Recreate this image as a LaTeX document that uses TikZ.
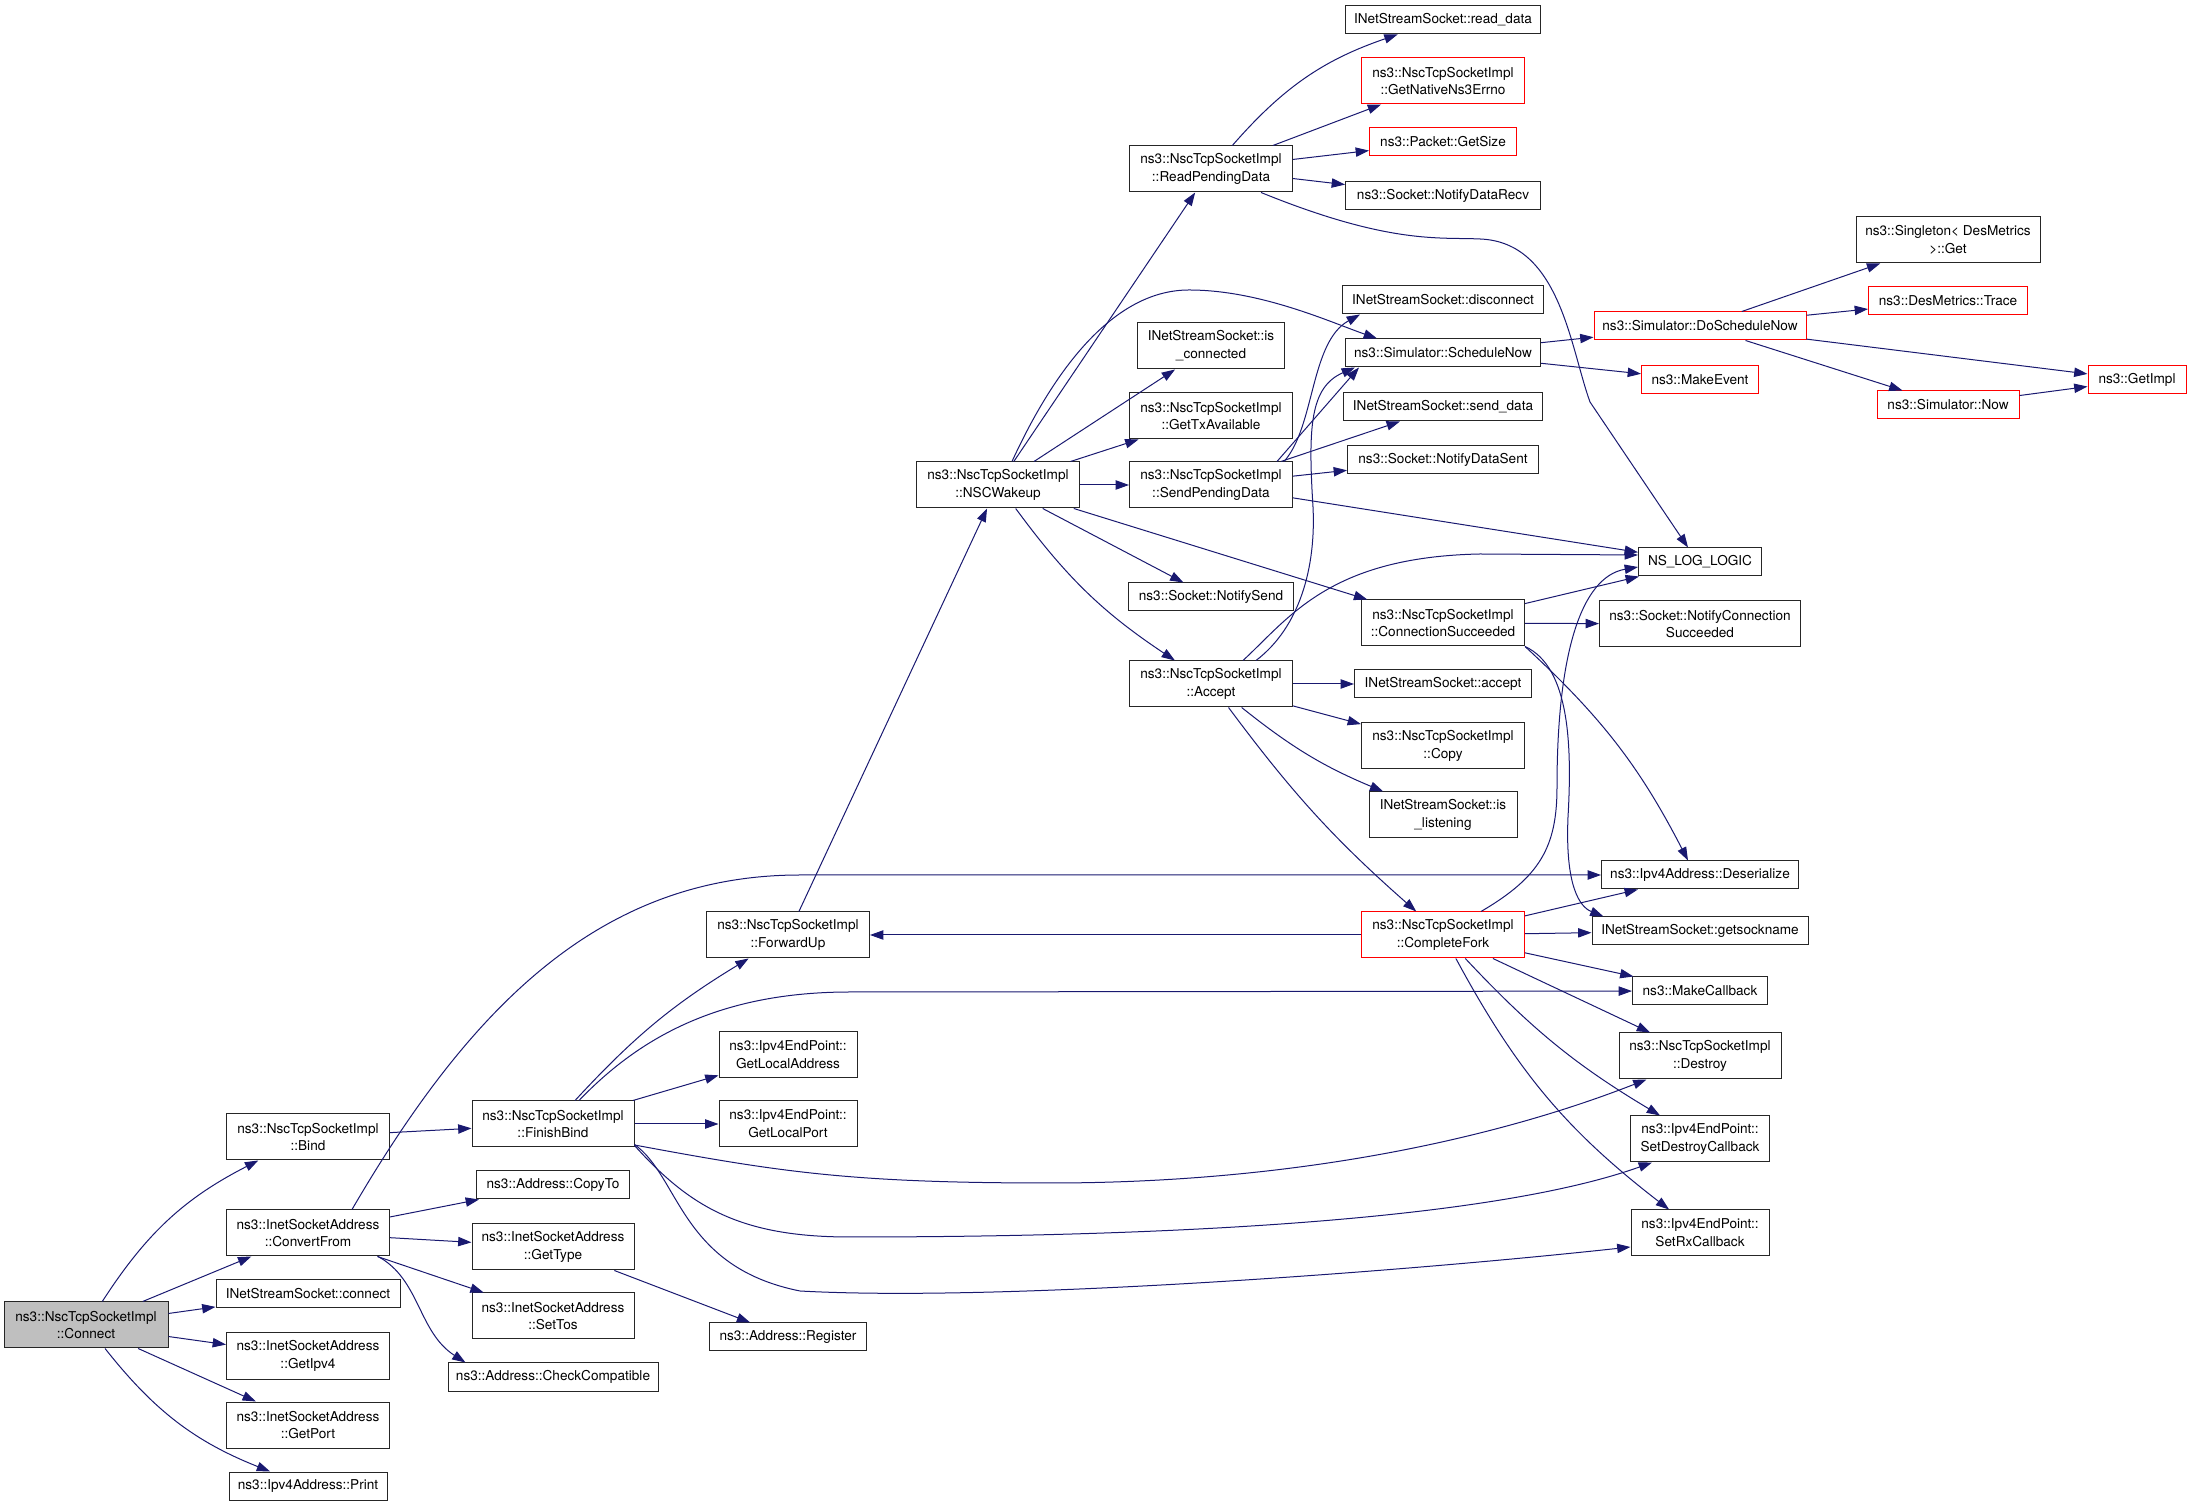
\documentclass[tikz,border=0pt]{standalone}
\usepackage{fontspec}
\setmainfont{TeX Gyre Heros}
\usetikzlibrary{arrows.meta,calc}
\definecolor{edgeblue}{HTML}{191970}
\definecolor{rootgray}{HTML}{BFBFBF}
\definecolor{truncred}{HTML}{FF0000}
\begin{document}
\begin{tikzpicture}[x=0.75pt,y=0.75pt,
      fn/.style={draw=black!85,line width=0.75pt,inner sep=0pt,align=center,
        minimum width=#1*0.75pt,minimum height=21pt,
        font=\fontsize{10.2pt}{13.3pt}\selectfont},
      fn/.default=160,
      two/.style={minimum height=34.5pt},
      trunc/.style={draw=truncred},
      root/.style={fill=rootgray},
      call/.style={draw=edgeblue,line width=0.75pt,
        -{Triangle[length=10pt,width=7pt]}}]
    \useasboundingbox (0,0) rectangle (2192,1507);
    \node[fn=164,two,root] (connect) at (86,182) {ns3::NscTcpSocketImpl\\::Connect};
    \node[fn=163,two] (bind) at (308,370) {ns3::NscTcpSocketImpl\\::Bind};
    \node[fn=163,two] (convfrom) at (308,274) {ns3::InetSocketAddress\\::ConvertFrom};
    \node[fn=184] (nsconnect) at (308,213) {INetStreamSocket::connect};
    \node[fn=163,two] (getipv4) at (308,151) {ns3::InetSocketAddress\\::GetIpv4};
    \node[fn=163,two] (getport) at (308,82) {ns3::InetSocketAddress\\::GetPort};
    \node[fn=158] (print) at (308,21) {ns3::Ipv4Address::Print};
    \node[fn=162,two] (finishbind) at (553,383) {ns3::NscTcpSocketImpl\\::FinishBind};
    \node[fn=153] (copyto) at (553,322) {ns3::Address::CopyTo};
    \node[fn=162,two] (gettype) at (553,260) {ns3::InetSocketAddress\\::GetType};
    \node[fn=162,two] (settos) at (553,191) {ns3::InetSocketAddress\\::SetTos};
    \node[fn=210] (checkcomp) at (553,130) {ns3::Address::CheckCompatible};
    \node[fn=163,two] (forwardup) at (788,572) {ns3::NscTcpSocketImpl\\::ForwardUp};
    \node[fn=138,two] (getlocaddr) at (788,452) {ns3::Ipv4EndPoint::\\GetLocalAddress};
    \node[fn=138,two] (getlocport) at (788,383) {ns3::Ipv4EndPoint::\\GetLocalPort};
    \node[fn=157] (register) at (788,170) {ns3::Address::Register};
    \node[fn=163,two] (nscwakeup) at (998,1022) {ns3::NscTcpSocketImpl\\::NSCWakeup};
    \node[fn=163,two] (readpend) at (1211,1338) {ns3::NscTcpSocketImpl\\::ReadPendingData};
    \node[fn=147,two] (isconn) at (1211,1161) {INetStreamSocket::is\\\_connected};
    \node[fn=163,two] (gettx) at (1211,1091) {ns3::NscTcpSocketImpl\\::GetTxAvailable};
    \node[fn=163,two] (sendpend) at (1211,1022) {ns3::NscTcpSocketImpl\\::SendPendingData};
    \node[fn=165] (notifysend) at (1211,910) {ns3::Socket::NotifySend};
    \node[fn=163,two] (accept) at (1211,823) {ns3::NscTcpSocketImpl\\::Accept};
    \node[fn=195] (readdata) at (1443,1487) {INetStreamSocket::read\_data};
    \node[fn=163,two,trunc] (nativeerr) at (1443,1426) {ns3::NscTcpSocketImpl\\::GetNativeNs3Errno};
    \node[fn=147,trunc] (getsize) at (1443,1365) {ns3::Packet::GetSize};
    \node[fn=195] (notifyrecv) at (1443,1311) {ns3::Socket::NotifyDataRecv};
    \node[fn=201] (disconnect) at (1443,1207) {INetStreamSocket::disconnect};
    \node[fn=195] (schedulenow) at (1443,1154) {ns3::Simulator::ScheduleNow};
    \node[fn=199] (senddata) at (1443,1100) {INetStreamSocket::send\_data};
    \node[fn=191] (notifysent) at (1443,1047) {ns3::Socket::NotifyDataSent};
    \node[fn=163,two] (connsucc) at (1443,884) {ns3::NscTcpSocketImpl\\::ConnectionSucceeded};
    \node[fn=177] (nsaccept) at (1443,823) {INetStreamSocket::accept};
    \node[fn=163,two] (copy) at (1443,761) {ns3::NscTcpSocketImpl\\::Copy};
    \node[fn=148,two] (islisten) at (1443,692) {INetStreamSocket::is\\\_listening};
    \node[fn=163,two,trunc] (completefork) at (1443,572) {ns3::NscTcpSocketImpl\\::CompleteFork};
    \node[fn=212,trunc] (doschedule) at (1700,1181) {ns3::Simulator::DoScheduleNow};
    \node[fn=117,trunc] (makeevent) at (1700,1127) {ns3::MakeEvent};
    \node[fn=123] (nslog) at (1700,945) {NS\_LOG\_LOGIC};
    \node[fn=201,two] (notifyconn) at (1700,883) {ns3::Socket::NotifyConnection\\Succeeded};
    \node[fn=197] (deserialize) at (1700,632) {ns3::Ipv4Address::Deserialize};
    \node[fn=216] (getsockname) at (1700,576) {INetStreamSocket::getsockname};
    \node[fn=135] (makecallback) at (1700,516) {ns3::MakeCallback};
    \node[fn=162,two] (destroy) at (1700,451) {ns3::NscTcpSocketImpl\\::Destroy};
    \node[fn=139,two] (setdestroy) at (1700,368) {ns3::Ipv4EndPoint::\\SetDestroyCallback};
    \node[fn=138,two] (setrx) at (1700,274) {ns3::Ipv4EndPoint::\\SetRxCallback};
    \node[fn=184,two] (singleton) at (1948,1267) {ns3::Singleton< DesMetrics\\>::Get};
    \node[fn=159,trunc] (trace) at (1948,1206) {ns3::DesMetrics::Trace};
    \node[fn=142,trunc] (simnow) at (1948,1102) {ns3::Simulator::Now};
    \node[fn=98,trunc] (getimpl) at (2137,1127) {ns3::GetImpl};

    \draw[call] (connect) to[bend left=15] (bind);
    \draw[call] (connect) -- (convfrom);
    \draw[call] (connect) -- (nsconnect);
    \draw[call] (connect) -- (getipv4);
    \draw[call] (connect) -- (getport);
    \draw[call] (connect) to[bend right=15] (print);
    \draw[call] (bind) -- (finishbind);
    \draw[call] (convfrom) -- (copyto);
    \draw[call] (convfrom) -- (gettype);
    \draw[call] (convfrom) -- (settos);
    \draw[call] ($(convfrom.south east)+(-12,0)$) .. controls (420,228) and (418,175) .. ($(checkcomp.north west)+(18,0)$);
    \draw[call] ($(convfrom.north)+(44,0)$) .. controls (470,500) and (600,632) .. (800,632) -- (deserialize);
    \draw[call] (gettype) -- (register);
    \draw[call] (finishbind) to[bend left=8] (forwardup);
    \draw[call] ($(finishbind.north)+(26,0)$) .. controls (640,470) and (720,515) .. (850,515) -- (makecallback);
    \draw[call] (finishbind) -- (getlocaddr);
    \draw[call] (finishbind) -- (getlocport);
    \draw[call] ($(finishbind.east)+(0,-21)$) .. controls (780,335) and (850,324) .. (1050,324) .. controls (1300,324) and (1500,370) .. ($(destroy.south west)+(28,0)$);
    \draw[call] ($(finishbind.south east)+(0,2)$) .. controls (690,300) and (740,270) .. (850,270) .. controls (1200,270) and (1500,290) .. ($(setdestroy.south west)+(22,0)$);
    \draw[call] ($(finishbind.south east)+(0,3)$) .. controls (680,330) and (680,240) .. (800,216) .. controls (1000,205) and (1400,235) .. ($(setrx.west)+(0,-14)$);
    \draw[call] (forwardup) -- (nscwakeup);
    \draw[call] (completefork) -- (forwardup);
    \draw[call] ($(completefork.north)+(38,0)$) .. controls (1540,630) and (1557,660) .. (1557,720) .. controls (1557,850) and (1580,930) .. ($(nslog.west)+(0,-5)$);
    \draw[call] (completefork) -- (deserialize);
    \draw[call] (completefork) -- (getsockname);
    \draw[call] (completefork) -- (makecallback);
    \draw[call] (completefork) -- (destroy);
    \draw[call] (completefork) to[bend right=8] (setdestroy);
    \draw[call] (completefork) to[bend right=12] (setrx);
    \draw[call] (nscwakeup) -- (readpend);
    \draw[call] ($(nscwakeup.north)+(14,0)$) .. controls (1060,1150) and (1120,1217) .. (1189,1217) .. controls (1260,1217) and (1330,1185) .. ($(schedulenow.north)+(-66,0)$);
    \draw[call] (nscwakeup) -- (isconn);
    \draw[call] (nscwakeup) -- (gettx);
    \draw[call] (nscwakeup) -- (sendpend);
    \draw[call] (nscwakeup) -- (notifysend);
    \draw[call] (nscwakeup) to[bend right=10] (accept);
    \draw[call] (nscwakeup) -- (connsucc);
    \draw[call] (readpend) to[bend left=15] (readdata);
    \draw[call] (readpend) -- (nativeerr);
    \draw[call] (readpend) -- (getsize);
    \draw[call] (readpend) -- (notifyrecv);
    \draw[call] ($(readpend.south)+(50,0)$) .. controls (1390,1262) and (1440,1270) .. (1480,1268) .. controls (1560,1265) and (1570,1160) .. (1590,1105) -- ($(nslog.north)+(-12,0)$);
    \draw[call] (sendpend) -- (senddata);
    \draw[call] (sendpend) -- (notifysent);
    \draw[call] (sendpend) -- (nslog);
    \draw[call] ($(sendpend.north east)+(-16,0)$) -- ($(schedulenow.south west)+(14,0)$);
    \draw[call] ($(sendpend.north east)+(-9,0)$) .. controls (1315,1080) and (1310,1165) .. ($(disconnect.south west)+(18,0)$);
    \draw[call] (accept) -- (nsaccept);
    \draw[call] (accept) -- (copy);
    \draw[call] (accept) to[bend right=8] (islisten);
    \draw[call] (accept) to[bend right=6] (completefork);
    \draw[call] ($(accept.north)+(45,0)$) .. controls (1300,880) and (1316,940) .. (1313,1000) .. controls (1308,1080) and (1310,1120) .. ($(schedulenow.south west)+(10,0)$);
    \draw[call] ($(accept.north)+(32,0)$) .. controls (1290,890) and (1330,950) .. (1480,953) -- ($(nslog.west)+(0,7)$);
    \draw[call] (connsucc) -- (nslog);
    \draw[call] (connsucc) -- (notifyconn);
    \draw[call] (connsucc.south east) to[bend left=10] ($(deserialize.north)+(-12,0)$);
    \draw[call] (connsucc.south east) .. controls (1570,840) and (1572,760) .. (1568,690) .. controls (1565,620) and (1580,600) .. ($(getsockname.north west)+(12,0)$);
    \draw[call] (schedulenow) -- (doschedule);
    \draw[call] (schedulenow) -- (makeevent);
    \draw[call] (doschedule) -- (singleton);
    \draw[call] (doschedule) -- (trace);
    \draw[call] (doschedule) -- (getimpl);
    \draw[call] (doschedule) -- (simnow);
    \draw[call] (simnow) -- (getimpl);
  \end{tikzpicture}
\end{document}
